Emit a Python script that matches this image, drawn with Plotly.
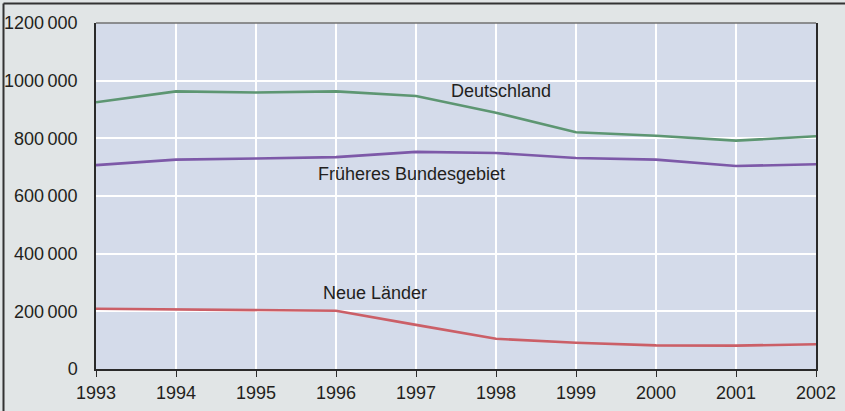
import plotly.graph_objects as go

years = [1993, 1994, 1995, 1996, 1997, 1998, 1999, 2000, 2001, 2002]
deutschland = [925000, 963000, 959000, 963000, 947000, 889000, 821000, 809000, 792000, 807000]
frueheres = [707000, 726000, 730000, 735000, 753000, 749000, 732000, 726000, 704000, 710000]
neue_laender = [209000, 207000, 205000, 202000, 153000, 105000, 91000, 82000, 81000, 86000]

y_tickvals = [0, 200000, 400000, 600000, 800000, 1000000, 1200000]
SP = "<span style='font-size:13px'> </span>"
y_ticktext = ["0", "200" + SP + "000", "400" + SP + "000", "600" + SP + "000",
              "800" + SP + "000", "1000" + SP + "000", "1200" + SP + "000"]

series = [
    ("Deutschland", deutschland, "#5d9672"),
    ("Früheres Bundesgebiet", frueheres, "#7d59a8"),
    ("Neue Länder", neue_laender, "#cb5f67"),
]

FONT = "Liberation Sans, Arial, Helvetica, sans-serif"

fig = go.Figure()
for name, vals, col in series:
    fig.add_trace(go.Scatter(x=years, y=vals, mode="lines", name=name,
                             line=dict(color=col, width=2.6), hoverinfo="skip"))

labels = [
    ("Deutschland", 1998.06, 963000),
    ("Früheres Bundesgebiet", 1996.94, 678000),
    ("Neue Länder", 1996.49, 264000),
]
for text, x, y in labels:
    fig.add_annotation(x=x, y=y, text=text, showarrow=False,
                       font=dict(family=FONT, size=18, color="#231f20"))

L, R, T, B = 96, 845 - 816, 23, 411 - 369
pw, ph = 845 - L - R, 411 - T - B
lx = (3.5 - L) / pw
ty = (ph + T - 3.5) / ph
fig.add_shape(type="line", xref="paper", yref="paper", x0=lx, x1=lx, y0=-B / ph - 0.05, y1=ty,
              line=dict(color="#333333", width=2), layer="above")
fig.add_shape(type="line", xref="paper", yref="paper", x0=lx, x1=(845 - L) / pw + 0.05, y0=ty, y1=ty,
              line=dict(color="#333333", width=2), layer="above")
fig.add_shape(type="line", xref="paper", yref="paper", x0=0, x1=1, y0=1, y1=1,
              line=dict(color="#707070", width=1.5))

fig.update_layout(
    width=845, height=411,
    margin=dict(l=L, r=R, t=T, b=B, pad=0, autoexpand=False),
    paper_bgcolor="#e1e5e6",
    plot_bgcolor="#d4dbea",
    showlegend=False,
    font=dict(family=FONT, size=18, color="#231f20"),
    xaxis=dict(range=[1993, 2002], tickvals=years, ticktext=[str(y) for y in years],
               showgrid=True, gridcolor="#ffffff", gridwidth=2,
               showline=True, linecolor="#2a2a2a", linewidth=1.5,
               ticks="outside", ticklen=6, tickcolor="#2a2a2a", tickwidth=1,
               ticklabelstandoff=1, zeroline=False, automargin=False,
               tickfont=dict(family=FONT, size=18, color="#231f20")),
    yaxis=dict(range=[0, 1200000], tickvals=y_tickvals, ticktext=y_ticktext,
               showgrid=True, gridcolor="#ffffff", gridwidth=2,
               showline=True, linecolor="#2a2a2a", linewidth=1.5, mirror=True,
               ticks="", ticklabelstandoff=13, zeroline=False, automargin=False,
               tickfont=dict(family=FONT, size=18, color="#231f20")),
)

fig.write_html("out.html", config={"displayModeBar": False},
               post_script="document.body.style.margin='0';document.body.style.overflow='hidden';")
